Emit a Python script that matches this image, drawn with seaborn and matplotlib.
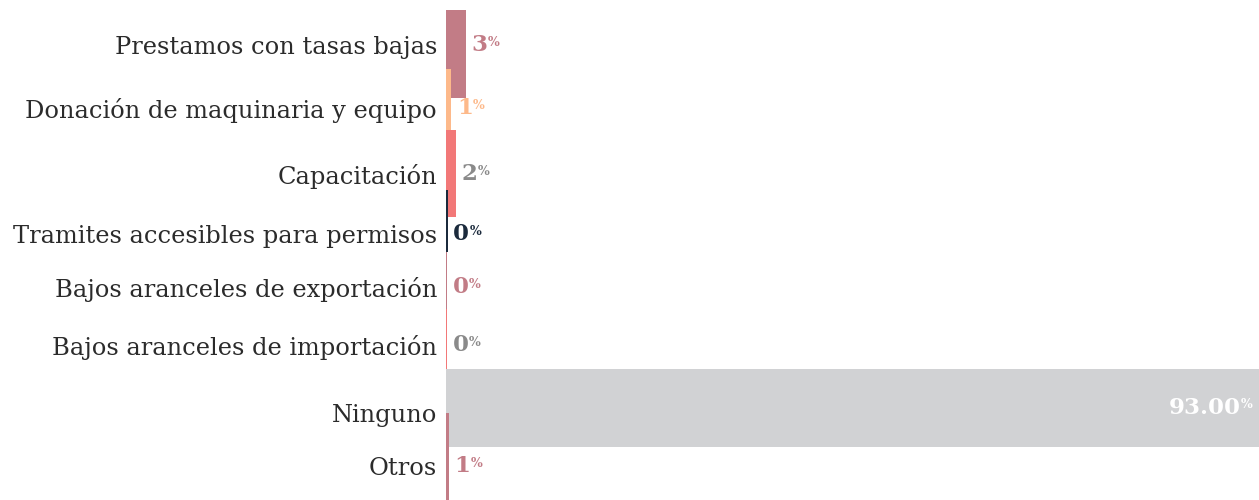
"""
Apoyos solicitados - barras horizontales
"""

import matplotlib
matplotlib.use("Agg")
import matplotlib.pyplot as plt
import pandas as pd
import seaborn as sns

categorias = [
    "Prestamos con tasas bajas",
    "Donación de maquinaria y equipo",
    "Capacitación",
    "Tramites accesibles para permisos",
    "Bajos aranceles de exportación",
    "Bajos aranceles de importación",
    "Ninguno",
    "Otros",
]
valores = [2.3, 0.6, 1.15, 0.2, 0.15, 0.15, 93.0, 0.35]
etiquetas = ["3", "1", "2", "0", "0", "0", "93.00", "1"]

# colores
ROSA, DURAZNO, CORAL, MARINO, GRIS = "#c27c86", "#fdb98a", "#f27878", "#1b2a3c", "#d1d2d4"
colores_barra = [ROSA, DURAZNO, CORAL, MARINO, ROSA, CORAL, GRIS, ROSA]
colores_texto = [ROSA, DURAZNO, "#8a8a8a", MARINO, ROSA, "#8a8a8a", "white", ROSA]

# layout vertical (eje y de 0 a 500, de arriba hacia abajo)
centros = [45, 108, 174, 234, 287, 345, 413, 466]
bordes_sup = [10, 69, 130, 190, 252, 309, 369, 413]
bordes_inf = [98, 130, 217, 252, 309, 369, 447, 500]

FUENTE = "DejaVu Serif"

df = pd.DataFrame({"categoria": categorias, "valor": valores})

sns.set_style("white")
plt.rcParams["font.family"] = [FUENTE]

fig = plt.figure(figsize=(12.59, 5.0), dpi=100)
ax = fig.add_axes([446 / 1259, 0, 1 - 446 / 1259, 1])

sns.barplot(data=df, x="valor", y="categoria", hue="categoria",
            hue_order=categorias, order=categorias,
            palette=colores_barra, orient="h", legend=False,
            saturation=1, width=0.8, ax=ax)

# reacomodar las barras en el layout del original
barras = sorted(ax.patches, key=lambda p: p.get_y() + p.get_height() / 2)
for i, p in enumerate(barras):
    p.set_y(bordes_sup[i])
    p.set_height(bordes_inf[i] - bordes_sup[i])
    p.set_linewidth(0)
    p.set_zorder(2 + i)

ax.set_ylim(500, 0)
ax.set_xlim(0, 93)
ax.set_yticks(centros)
ax.set_yticklabels(categorias, fontsize=17.4, color="#2b2b2b")
ax.tick_params(axis="y", length=0, pad=6.5)
ax.set_xticks([])
ax.set_xlabel("")
ax.set_ylabel("")
sns.despine(ax=ax, left=True, bottom=True, top=True, right=True)

# etiquetas de valor con % en superindice
for i, (v, et) in enumerate(zip(valores, etiquetas)):
    if et == "93.00":
        pct = ax.annotate("%", xy=(v, centros[i]), xytext=(-5, 1.5),
                          textcoords="offset points", ha="right", va="bottom",
                          fontsize=9, fontweight="bold", color=colores_texto[i],
                          zorder=20)
        ax.annotate(et, xy=(0, 0.2), xycoords=pct, ha="right", va="center",
                    fontsize=16.5, fontweight="bold", color=colores_texto[i],
                    zorder=20)
    else:
        t = ax.annotate(et, xy=(v, centros[i]), xytext=(4, 0),
                        textcoords="offset points", ha="left", va="center",
                        fontsize=16.5, fontweight="bold", color=colores_texto[i],
                        zorder=20)
        ax.annotate("%", xy=(1, 0.92), xycoords=t, ha="left", va="top",
                    fontsize=9, fontweight="bold", color=colores_texto[i],
                    zorder=20)

fig.savefig("out.png", dpi=100)
